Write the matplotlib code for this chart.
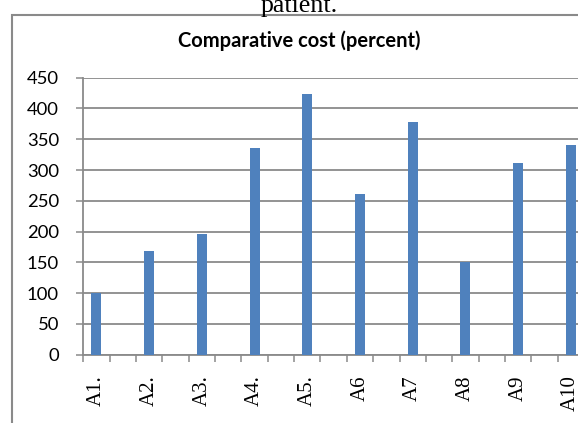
import matplotlib
matplotlib.use("Agg")
import matplotlib.pyplot as plt
from matplotlib.patches import Rectangle
from matplotlib.ticker import FixedLocator, NullFormatter

categories = ["A1.", "A2.", "A3.", "A4.", "A5.", "A6", "A7", "A8", "A9", "A10"]
values = [100, 168, 196, 336, 424, 261, 378, 151, 312, 340]
yticks = [0, 50, 100, 150, 200, 250, 300, 350, 400, 450]

W, H = 578, 423
DPI = 100
fig = plt.figure(figsize=(W / DPI, H / DPI), dpi=DPI)

def fx(px):
    return px / W

def fy(py):
    return 1 - py / H

slot = 26.35
left_px = 83.3
zero_px = 354.5
top_px = 77.75
nslots = 2 * len(categories)
ax = fig.add_axes([fx(left_px), fy(zero_px), (nslots * slot) / W, (zero_px - top_px) / H])

grey = "#8a8a8a"
xpos = [2 * i for i in range(len(categories))]
ax.bar(xpos, values, width=10 / slot, color="#4F81BD", zorder=3)
ax.set_xlim(-0.5, nslots - 0.5)
ax.set_ylim(0, 450)

ax.set_yticks(yticks)
ax.set_yticklabels([str(v) for v in yticks], fontsize=13.3, family="Lato", color="#000000")
ax.yaxis.grid(True, color=grey, linewidth=1.3, zorder=0)
ax.tick_params(axis="y", length=5, width=1.1, color=grey, pad=12.5)

ax.set_xticks(xpos)
ax.set_xticklabels(categories, rotation=90, fontsize=15, family="Liberation Serif", va="top", ha="center")
ax.tick_params(axis="x", which="major", length=0, pad=15)
ax.xaxis.set_minor_locator(FixedLocator([k - 0.5 for k in range(nslots + 1)]))
ax.xaxis.set_minor_formatter(NullFormatter())
ax.tick_params(axis="x", which="minor", length=5, width=1.1, color=grey)

for s in ["top", "right"]:
    ax.spines[s].set_visible(False)
for s in ["left", "bottom"]:
    ax.spines[s].set_color(grey)
    ax.spines[s].set_linewidth(1.3)
ax.set_axisbelow(True)

# chart border
border = Rectangle((fx(12), fy(440)), fx(600), (440 - 15) / H, transform=fig.transFigure,
                   fill=False, edgecolor=grey, linewidth=1.5, clip_on=False)
fig.add_artist(border)

fig.text(fx(299), fy(47.3), "Comparative cost (percent)", ha="center", va="baseline",
         fontsize=14.5, fontweight="bold", family="Lato")
fig.text(fx(299), fy(12), "patient.", ha="center", va="baseline",
         fontsize=18.7, family="Liberation Serif")

fig.savefig("out.png", dpi=DPI)
